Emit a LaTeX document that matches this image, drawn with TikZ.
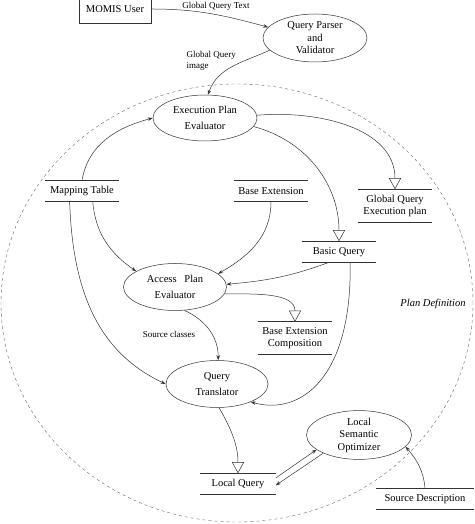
\documentclass[tikz,border=0pt]{standalone}
\usepackage{fontspec}
\setmainfont{Liberation Serif}
\usetikzlibrary{shapes.geometric,arrows.meta}

\begin{document}
\begin{tikzpicture}[x=1pt,y=1pt,
   font=\fontsize{10.5}{12.5}\selectfont,
   line width=0.5pt, draw=black!80,
   >={Stealth[length=5pt,width=3.5pt]},
   tri/.style={-{Triangle[open,length=11pt,width=12pt,fill=white]}},
   proc/.style={ellipse, draw, inner sep=0pt, align=center, minimum width=104, minimum height=47},
   store/.style={minimum width=74, minimum height=21, inner sep=1pt, align=center,
      append after command={(\tikzlastnode.north west) edge[-] (\tikzlastnode.north east)
                            (\tikzlastnode.south west) edge[-] (\tikzlastnode.south east)}},
   lbl/.style={font=\fontsize{9}{10.5}\selectfont}]
   \useasboundingbox (0,0) rectangle (474,524);
   \clip (0,0) rectangle (474,524);
   % plan definition boundary
   \draw[dashed, draw=black!60, line width=0.4pt] (237,221) ellipse[x radius=236, y radius=219];
   \node[font=\fontsize{10.5}{12}\selectfont\itshape] (plandef) at (433,220) {Plan Definition};
   % processes
   \node[draw, minimum width=72, minimum height=28] (user) at (115,515) {MOMIS User};
   \node[proc, minimum height=48] (parser) at (315,486) {Query Parser\\and\\Validator};
   \node[proc, minimum height=46] (exec) at (205,406) {Execution Plan\\[3.5pt]Evaluator};
   \node[proc, minimum width=103] (access) at (175,237) {Access\ \ \ Plan\\[3.5pt]Evaluator};
   \node[proc, minimum width=102] (trans) at (217,140) {Query\\[3.5pt]Translator};
   \node[proc, minimum width=105, minimum height=46] (lso) at (359,89) {Local\\Semantic\\Optimizer};
   % stores
   \node[store, minimum width=73] (maptab) at (82,333) {Mapping Table};
   \node[store] (baseext) at (271,333) {Base Extension};
   \node[store, minimum height=33] (gqep) at (395,318) {Global Query\\Execution plan};
   \node[store] (basicq) at (339,272) {Basic Query};
   \node[store, minimum height=32] (bec) at (295,186) {Base Extension\\Composition};
   \node[store, minimum width=75] (localq) at (238,40) {Local Query};
   \node[store, minimum width=97] (srcdesc) at (425,25) {Source Description};
   % flow labels
   \node[lbl] (gqtext) at (216,518) {Global Query Text};
   \node[lbl, anchor=west, align=left] (gqimage) at (183,463) {Global Query\\image};
   \node[lbl] (srccls) at (169,190) {Source classes};
   % flows
   \draw[->] (user.east) to[out=0,in=165] (parser.167);
   \draw[->] (parser.195) to[out=205,in=70] (exec.83);
   \draw[->] (maptab.north) to[out=80,in=195] (exec.west);
   \draw[tri] (exec.3) to[out=5,in=90] (gqep.north);
   \draw[tri] (exec.-10) to[out=-15,in=90] (basicq.north);
   \draw[->] (maptab.-45) to[out=-85,in=145] (access.158);
   \draw[->] (baseext.south) to[out=-90,in=30] (access.17);
   \draw[->] (basicq.-136) to[out=200,in=5] (access.3);
   \draw[tri] (access.-8) to[out=0,in=90] (bec.north);
   \draw[->] (maptab.-139) to[out=-88,in=155] (trans.west);
   \draw[->] (access.-68) to[out=-25,in=90] (trans.87);
   \draw[->] (basicq.-44) .. controls +(2,-115) and +(50,-14) .. (trans.-28);
   \draw[tri] (trans.-85) to[out=-60,in=90] (localq.north);
   \draw[->] (localq.9) -- (lso.199);
   \draw[->] (lso.207) -- (localq.-2);
   \draw[->] (srcdesc.north) to[out=95,in=-50] (lso.-14);
\end{tikzpicture}
\end{document}
